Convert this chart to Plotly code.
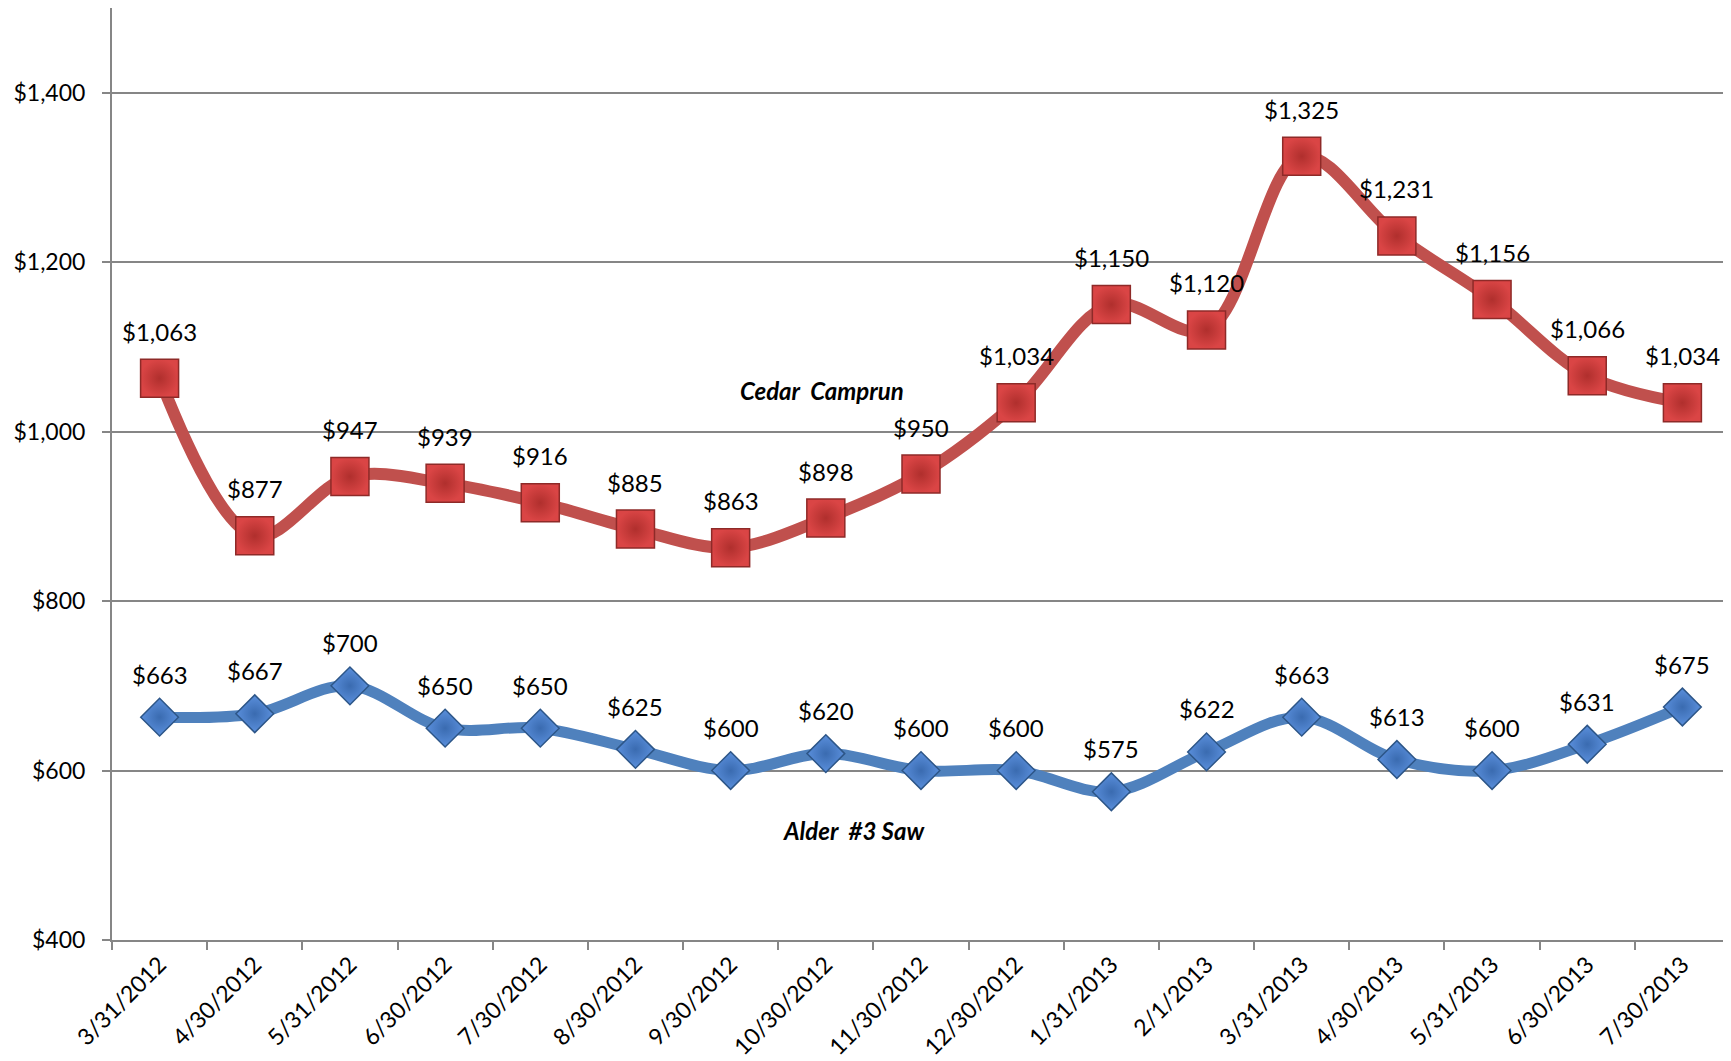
import plotly.graph_objects as go

dates = ["3/31/2012", "4/30/2012", "5/31/2012", "6/30/2012", "7/30/2012",
         "8/30/2012", "9/30/2012", "10/30/2012", "11/30/2012", "12/30/2012",
         "1/31/2013", "2/1/2013", "3/31/2013", "4/30/2013", "5/31/2013",
         "6/30/2013", "7/30/2013"]
cedar = [1063, 877, 947, 939, 916, 885, 863, 898, 950, 1034,
         1150, 1120, 1325, 1231, 1156, 1066, 1034]
alder = [663, 667, 700, 650, 650, 625, 600, 620, 600, 600,
         575, 622, 663, 613, 600, 631, 675]
y_ticks = [400, 600, 800, 1000, 1200, 1400]

FONT = "Lato, 'Open Sans', sans-serif"
RED = "#C0504D"
BLUE = "#4F81BD"

fig = go.Figure()

# Cedar Camprun
fig.add_trace(go.Scatter(
    x=dates, y=cedar, mode="lines+markers", name="Cedar Camprun",
    line=dict(color=RED, width=12, shape="spline", smoothing=1),
    marker=dict(symbol="square", size=38, color="#DA4545",
                gradient=dict(type="radial", color="#B02F2D"),
                line=dict(color="#8E2A28", width=1.5)),
))

# Alder #3 Saw
fig.add_trace(go.Scatter(
    x=dates, y=alder, mode="lines+markers", name="Alder #3 Saw",
    line=dict(color=BLUE, width=11, shape="spline", smoothing=1),
    marker=dict(symbol="diamond", size=29, color="#5A8FDC",
                gradient=dict(type="radial", color="#3A6BB0"),
                line=dict(color="#2D5688", width=1.5)),
))

# data labels
for d, v in zip(dates, cedar):
    fig.add_annotation(x=d, y=v, text=f"${v:,}", showarrow=False,
                       yshift=47, font=dict(family=FONT, size=24, color="#000"))
for d, v in zip(dates, alder):
    fig.add_annotation(x=d, y=v, text=f"${v:,}", showarrow=False,
                       yshift=43, font=dict(family=FONT, size=24, color="#000"))

# series names
fig.add_annotation(x=6.96, y=1048, text="<b><i>Cedar  Camprun</i></b>",
                   showarrow=False,
                   font=dict(family=FONT, size=24, color="#000"))
fig.add_annotation(x=7.3, y=529, text="<b><i>Alder  #3 Saw</i></b>",
                   showarrow=False,
                   font=dict(family=FONT, size=24, color="#000"))

# page body adds an 8px offset, so the figure is 8px smaller each way
fig.update_layout(
    width=1723, height=1053,
    margin=dict(l=104, r=1, t=0, b=121, autoexpand=False),
    paper_bgcolor="white", plot_bgcolor="white",
    showlegend=False,
    font=dict(family=FONT, size=24, color="#000"),
)
fig.update_xaxes(
    type="category", range=[-0.5, 16.5], automargin=False,
    tickangle=-45, tickson="boundaries",
    ticks="outside", ticklen=8, tickcolor="#868686", tickwidth=2,
    showline=True, linecolor="#868686", linewidth=2,
    showgrid=False, tickfont=dict(family=FONT, size=23),
)
fig.update_yaxes(
    range=[400, 1500], tickvals=y_ticks, automargin=False,
    ticktext=[f"${t:,}" for t in y_ticks],
    ticks="outside", ticklen=8, tickcolor="#868686", tickwidth=2,
    showline=True, linecolor="#868686", linewidth=2,
    showgrid=True, gridcolor="#868686", gridwidth=1.5,
    zeroline=False, tickfont=dict(family=FONT, size=23),
    ticklabelstandoff=12,
)

fig.write_html("out.html")
